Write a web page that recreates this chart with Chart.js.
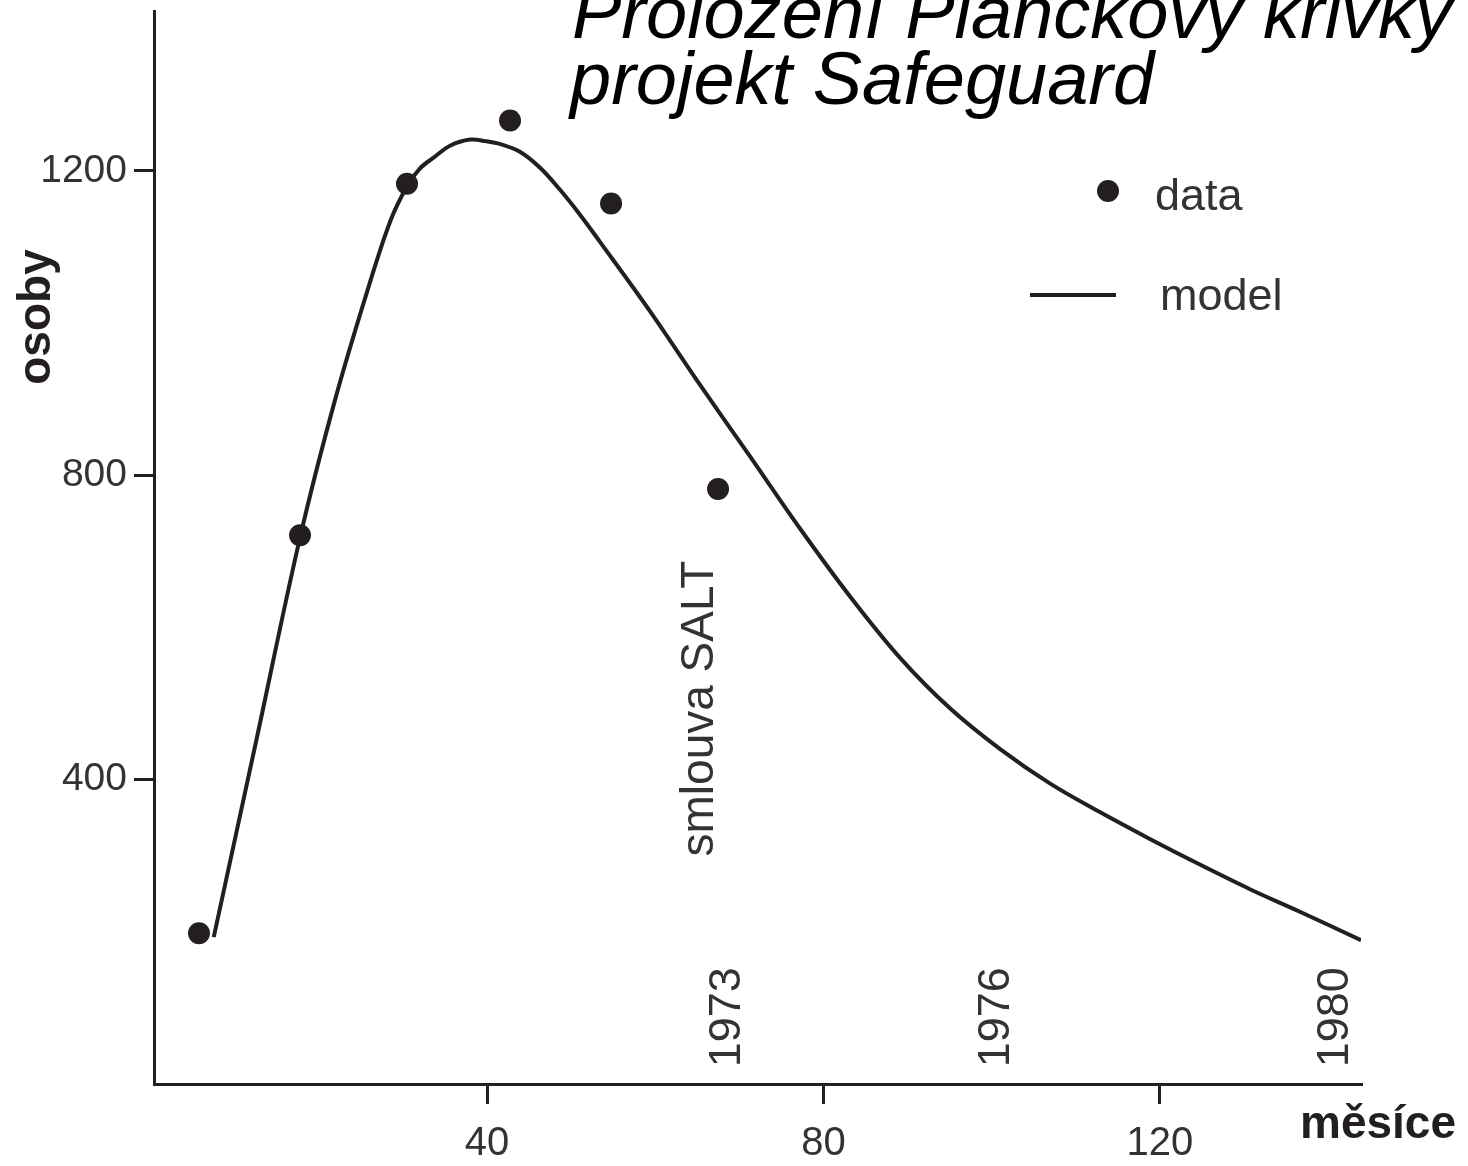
<!DOCTYPE html>
<html>
<head>
<meta charset="utf-8">
<script src="https://cdn.jsdelivr.net/npm/chart.js@4.4.1/dist/chart.umd.min.js"></script>
<style>
  body { margin: 0; background: #fff; }
  #chart { display: block; }
</style>
</head>
<body>
<canvas id="chart" width="1468" height="1166"></canvas>
<script>
// measured points (months, persons)
const dataMonths = [5.75, 17.76, 30.48, 42.73, 54.74, 67.46];
const dataPersons = [198, 721, 1183, 1266, 1157, 782];

// fitted Planck curve
const modelMonths = [7.5, 12.65, 17.76, 21.9, 25.7, 28.5, 30.5, 32.0, 33.6, 35.6, 38.0, 39.8, 41.6, 43.9, 46.3, 48.6, 51.0, 53.4, 59.4, 65.3, 71.3, 77.2, 83.2, 89.1, 95.1, 101.0, 106.9, 112.9, 118.8, 124.8, 130.7, 136.7, 143.9];
const modelPersons = [193, 456, 718, 898, 1040, 1134, 1180, 1203, 1217, 1233, 1241, 1239, 1235, 1225, 1204, 1176, 1143, 1107, 1015, 919, 824, 730, 640, 560, 493, 440, 395, 357, 322, 288, 256, 226, 189];

const xTicks = [40, 80, 120];
const yTicks = [400, 800, 1200];

// year marks along the month axis
const yearLabels = ['1973', '1976', '1980'];
const yearMonths = [68.6, 100.6, 140.9];

const saltLabel = 'smlouva SALT';
const saltMonth = 65.3;
const saltPersons = 299;

const titleLines = ['Proložení Planckovy křivky', 'projekt Safeguard'];

const ink = '#231f20';
const font = '"Liberation Sans", Arial, sans-serif';

const toPoints = (xs, ys) => xs.map((x, i) => ({ x: x, y: ys[i] }));

// everything that sits outside the normal axes/legend boxes
const extras = {
    id: 'extras',
    afterDraw(chart) {
        const ctx = chart.ctx;
        const xs = chart.scales.x;
        const ys = chart.scales.y;
        ctx.save();

        // title, top right, partly cut off
        ctx.fillStyle = '#000';
        ctx.font = 'italic 74px ' + font;
        ctx.textAlign = 'left';
        ctx.textBaseline = 'alphabetic';
        ctx.fillText(titleLines[0], 572, 38);
        ctx.fillText(titleLines[1], 570, 104);

        // legend
        ctx.fillStyle = ink;
        ctx.beginPath();
        ctx.arc(1108, 191, 11, 0, Math.PI * 2);
        ctx.fill();
        ctx.strokeStyle = ink;
        ctx.lineWidth = 4;
        ctx.beginPath();
        ctx.moveTo(1030, 295);
        ctx.lineTo(1116, 295);
        ctx.stroke();
        ctx.fillStyle = '#333';
        ctx.font = '45px ' + font;
        ctx.fillText('data', 1155, 210);
        ctx.fillText('model', 1160, 310);

        // axis titles
        ctx.fillStyle = ink;
        ctx.font = 'bold 46px ' + font;
        ctx.fillText('měsíce', 1300, 1138);
        ctx.save();
        ctx.translate(37, 317);
        ctx.rotate(-Math.PI / 2);
        ctx.textAlign = 'center';
        ctx.textBaseline = 'middle';
        ctx.fillText('osoby', 0, 0);
        ctx.restore();

        // rotated year labels and the SALT note
        ctx.fillStyle = '#333';
        ctx.textAlign = 'left';
        ctx.textBaseline = 'middle';
        ctx.font = '45px ' + font;
        yearLabels.forEach((lab, i) => {
            ctx.save();
            ctx.translate(xs.getPixelForValue(yearMonths[i]), ys.getPixelForValue(22));
            ctx.rotate(-Math.PI / 2);
            ctx.fillText(lab, 0, 0);
            ctx.restore();
        });
        ctx.font = '46px ' + font;
        ctx.save();
        ctx.translate(xs.getPixelForValue(saltMonth), ys.getPixelForValue(saltPersons));
        ctx.rotate(-Math.PI / 2);
        ctx.fillText(saltLabel, 0, 0);
        ctx.restore();

        ctx.restore();
    }
};

new Chart(document.getElementById('chart'), {
    type: 'scatter',
    data: {
        datasets: [{
            label: 'model',
            data: toPoints(modelMonths, modelPersons),
            showLine: true,
            borderColor: ink,
            borderWidth: 4,
            pointRadius: 0,
            tension: 0.35,
            fill: false
        }, {
            label: 'data',
            data: toPoints(dataMonths, dataPersons),
            pointRadius: 11,
            pointBackgroundColor: ink,
            pointBorderWidth: 0,
            borderWidth: 0
        }]
    },
    options: {
        responsive: false,
        animation: false,
        layout: { padding: { left: 0, top: 10, right: 107, bottom: 0 } },
        plugins: {
            legend: { display: false },
            tooltip: { enabled: false }
        },
        scales: {
            x: {
                type: 'linear',
                min: 0.4,
                max: 143.9,
                afterBuildTicks: s => { s.ticks = xTicks.map(v => ({ value: v })); },
                afterFit: s => { s.height = 82; s.paddingLeft = 0; s.paddingRight = 0; },
                border: { color: ink, width: 3 },
                grid: { drawOnChartArea: false, drawTicks: true, tickLength: 20, color: ink, lineWidth: 3 },
                ticks: { padding: 16, color: '#333', font: { family: font, size: 40 }, maxRotation: 0,
                         callback: v => String(v) }
            },
            y: {
                type: 'linear',
                min: 0,
                max: 1410,
                afterBuildTicks: s => { s.ticks = yTicks.map(v => ({ value: v })); },
                afterFit: s => { s.width = 154; s.paddingTop = 0; s.paddingBottom = 0; },
                border: { color: ink, width: 3 },
                grid: { drawOnChartArea: false, drawTicks: true, tickLength: 20, color: ink, lineWidth: 3 },
                ticks: { padding: 7, color: '#333', font: { family: font, size: 39 },
                         callback: v => String(v) }
            }
        }
    },
    plugins: [extras]
});
</script>
</body>
</html>
